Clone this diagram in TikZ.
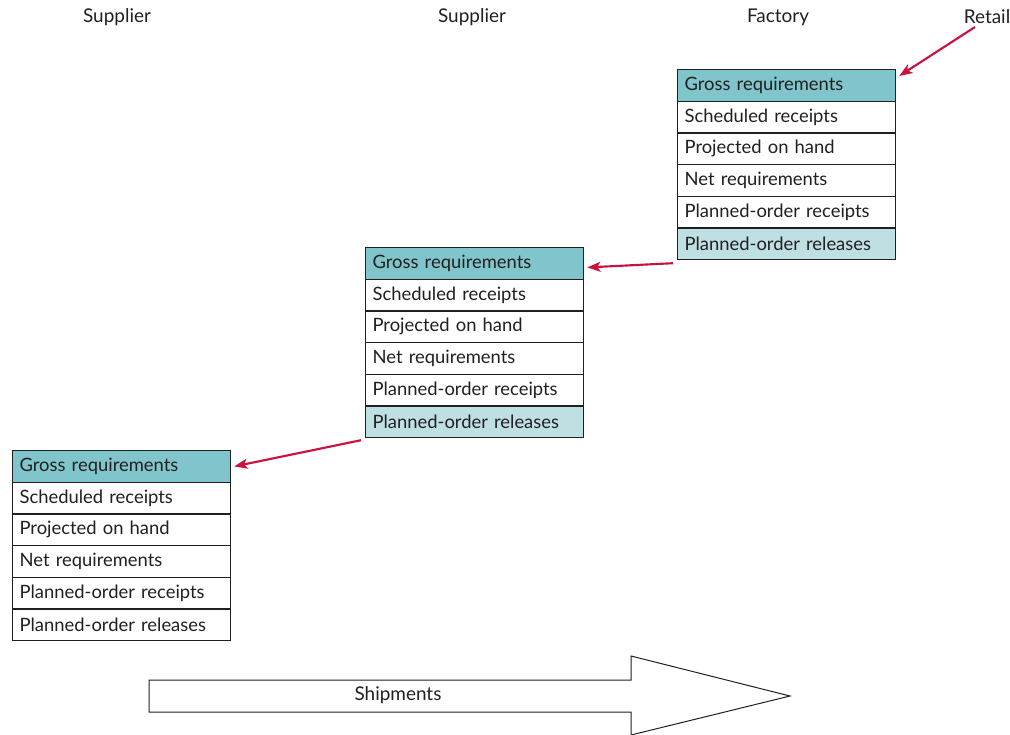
\documentclass[tikz,border=0pt]{standalone}
\usepackage{fontspec}
\setmainfont{Lato}
\usetikzlibrary{arrows.meta,calc}
\definecolor{headteal}{HTML}{80C5CB}
\definecolor{relteal}{HTML}{BFE0E3}
\definecolor{crim}{HTML}{C8133F}
\definecolor{txt}{HTML}{231F20}
\begin{document}
\begin{tikzpicture}[x=0.75pt,y=-0.75pt,
  rowbox/.style={draw=txt,line width=0.9pt,rectangle,minimum width=218*0.75pt,minimum height=31.67*0.75pt,
    text width=204*0.75pt,inner xsep=7*0.75pt,inner ysep=0pt,anchor=north west,align=left,
    font=\fontsize{13.8pt}{15pt}\selectfont,text=txt},
  headrow/.style={rowbox,fill=headteal},
  relrow/.style={rowbox,fill=relteal},
  plainrow/.style={rowbox,fill=white},
  collabel/.style={font=\fontsize{14.2pt}{16pt}\selectfont,text=txt,inner sep=0pt},
  feed/.style={draw=crim,line width=1.6pt,-{Stealth[length=10pt,width=7.5pt,inset=2.5pt]}}]
\useasboundingbox (0,0) rectangle (1010,735);
% column labels
\node[collabel] (sup1) at (117,17) {Supplier};
\node[collabel] (sup2) at (472,17) {Supplier};
\node[collabel] (fac) at (778,17) {Factory};
\node[collabel] (ret) at (987,17) {Retail};
% factory table
\node[headrow] (f1) at (677,69) {Gross requirements};
\node[plainrow] (f2) at (677,100.67) {Scheduled receipts};
\node[plainrow] (f3) at (677,132.33) {Projected on hand};
\node[plainrow] (f4) at (677,164) {Net requirements};
\node[plainrow] (f5) at (677,195.67) {Planned-order receipts};
\node[relrow] (f6) at (677,227.33) {Planned-order releases};
% middle supplier table
\node[headrow] (s1) at (365,247) {Gross requirements};
\node[plainrow] (s2) at (365,278.67) {Scheduled receipts};
\node[plainrow] (s3) at (365,310.33) {Projected on hand};
\node[plainrow] (s4) at (365,342) {Net requirements};
\node[plainrow] (s5) at (365,373.67) {Planned-order receipts};
\node[relrow] (s6) at (365,405.33) {Planned-order releases};
% left supplier table
\node[headrow] (t1) at (12,450) {Gross requirements};
\node[plainrow] (t2) at (12,481.67) {Scheduled receipts};
\node[plainrow] (t3) at (12,513.33) {Projected on hand};
\node[plainrow] (t4) at (12,545) {Net requirements};
\node[plainrow] (t5) at (12,576.67) {Planned-order receipts};
\node[plainrow] (t6) at (12,608.33) {Planned-order releases};
% connectors
\coordinate (retfoot) at (975,27);
\draw[feed] (retfoot) -- ($(f1.north east)+(3,7)$);
\draw[feed] ($(f6.south west)+(-4,3)$) -- ($(s1.east)+(3,4)$);
\draw[feed] ($(s6.south west)+(-4,2)$) -- ($(t1.east)+(3,0)$);
% shipments arrow
\draw[draw=txt,line width=0.75pt,fill=white] (149,680) -- (631,680) -- (631,656) -- (790,696) -- (631,735) -- (631,712) -- (149,712) -- cycle;
\node[collabel] (ship) at (398,695) {Shipments};
\end{tikzpicture}
\end{document}
